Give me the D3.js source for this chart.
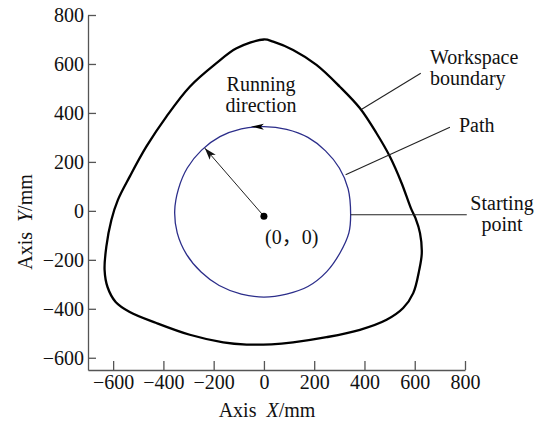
<!DOCTYPE html>
<html>
<head>
<meta charset="utf-8">
<script src="https://cdn.jsdelivr.net/npm/d3@7"></script>
<style>
  html, body { margin: 0; padding: 0; background: #fff; }
  svg { display: block; }
  text { font-family: "Liberation Serif", "Times New Roman", serif; fill: #111; }
</style>
</head>
<body>
<svg id="chart" width="546" height="424"></svg>
<script>
// Tick values on both axes (mm)
const xTicks = [-600, -400, -200, 0, 200, 400, 600, 800];
const yTicks = [-600, -400, -200, 0, 200, 400, 600, 800];

// Reachable workspace boundary (x, y in mm), traced counter-clockwise from the top
const boundaryX = [0, -109, -189, -295, -388, -468, -534, -581, -607, -627, -634, -622, -590, -534, -428, -295, -162, -69, 30, 116, 249, 382, 488, 554, 594, 618, 628, 621, 603, 585, 548, 501, 448, 382, 302, 209, 116, 37];
const boundaryY = [700, 664, 603, 507, 385, 262, 140, 45, -37, -146, -241, -312, -372, -413, -458, -506, -537, -546, -545, -537, -516, -486, -445, -397, -336, -241, -173, -91, -30, 10, 113, 222, 317, 419, 507, 596, 657, 691];

// Measured tool path around the origin (x, y in mm)
const pathX = [345, 335, 300, 245, 175, 90, 0, -90, -175, -248, -305, -340, -355, -345, -308, -250, -178, -90, 0, 90, 175, 250, 302, 338];
const pathY = [-16, 90, 175, 245, 300, 333, 344, 335, 303, 248, 175, 90, 0, -90, -178, -250, -305, -340, -352, -340, -309, -248, -173, -90];

// Annotation anchors (mm)
const centerPoint = [0, -22];
const radiusTip = [-235, 256];
const runArrowTip = [-52, 344];
const leaderLines = [
  { from: [389, 415], to: [624, 562] },   // workspace boundary
  { from: [325, 147], to: [740, 342] },   // path
  { from: [345, -16], to: [807, -16] }    // starting point
];

const svg = d3.select("#chart");
const x = d3.scaleLinear().domain([-700, 800]).range([88, 465]);
const y = d3.scaleLinear().domain([-650, 800]).range([370, 15]);

const axisColor = "#555";
const fontSize = 20;

// Arrowhead marker for the radius arrow
const defs = svg.append("defs");
defs.append("marker")
  .attr("id", "barb")
  .attr("viewBox", "0 0 12 8")
  .attr("refX", 12).attr("refY", 4)
  .attr("markerWidth", 12).attr("markerHeight", 8)
  .attr("markerUnits", "userSpaceOnUse")
  .attr("orient", "auto")
  .append("path")
  .attr("d", "M0,0 L12,4 L0,8 L3,4 Z")
  .attr("fill", "#111");

// Axes
const gx = svg.append("g")
  .attr("transform", `translate(0,${y(-650)})`)
  .call(d3.axisBottom(x).tickValues(xTicks).tickSizeInner(-9).tickSizeOuter(0).tickPadding(5));
const gy = svg.append("g")
  .attr("transform", `translate(${x(-700)},0)`)
  .call(d3.axisLeft(y).tickValues(yTicks).tickSizeInner(-8).tickSizeOuter(0).tickPadding(4));

[gx, gy].forEach(g => {
  g.select(".domain").attr("stroke", axisColor).attr("stroke-width", 1.3);
  g.selectAll(".tick line").attr("stroke", axisColor).attr("stroke-width", 1.3);
  g.selectAll(".tick text")
    .attr("font-family", "Liberation Serif, serif")
    .attr("font-size", fontSize)
    .attr("fill", "#111");
});

// Axis titles
const xTitle = svg.append("text")
  .attr("x", 267).attr("y", 417)
  .attr("text-anchor", "middle")
  .attr("font-size", fontSize);
xTitle.append("tspan").text("Axis\u2002");
xTitle.append("tspan").attr("font-style", "italic").text("X");
xTitle.append("tspan").text("/mm");

const yTitle = svg.append("text")
  .attr("transform", "translate(32,222) rotate(-90)")
  .attr("text-anchor", "middle")
  .attr("font-size", fontSize);
yTitle.append("tspan").text("Axis\u2002");
yTitle.append("tspan").attr("font-style", "italic").text("Y");
yTitle.append("tspan").text("/mm");

// Workspace boundary
const boundary = boundaryX.map((d, i) => [d, boundaryY[i]]);
svg.append("path")
  .datum(boundary)
  .attr("d", d3.line().x(d => x(d[0])).y(d => y(d[1])).curve(d3.curveCatmullRomClosed.alpha(0.5)))
  .attr("fill", "none")
  .attr("stroke", "#000")
  .attr("stroke-width", 2.3);

// Tool path
const toolPath = pathX.map((d, i) => [d, pathY[i]]);
svg.append("path")
  .datum(toolPath)
  .attr("d", d3.line().x(d => x(d[0])).y(d => y(d[1])).curve(d3.curveCatmullRomClosed.alpha(0.5)))
  .attr("fill", "none")
  .attr("stroke", "#2b2d8a")
  .attr("stroke-width", 1.3);

// Leader lines for the callouts
svg.selectAll("line.leader")
  .data(leaderLines)
  .join("line")
  .attr("class", "leader")
  .attr("x1", d => x(d.from[0])).attr("y1", d => y(d.from[1]))
  .attr("x2", d => x(d.to[0])).attr("y2", d => y(d.to[1]))
  .attr("stroke", "#222")
  .attr("stroke-width", 1.1);

// Radius arrow from the centre to the path
svg.append("line")
  .attr("x1", x(centerPoint[0])).attr("y1", y(centerPoint[1]))
  .attr("x2", x(radiusTip[0])).attr("y2", y(radiusTip[1]))
  .attr("stroke", "#222")
  .attr("stroke-width", 1)
  .attr("marker-end", "url(#barb)");

svg.append("circle")
  .attr("cx", x(centerPoint[0])).attr("cy", y(centerPoint[1]))
  .attr("r", 3.5)
  .attr("fill", "#000");

// Running-direction arrowhead on top of the path (pointing left)
const tx = x(runArrowTip[0]), ty = y(runArrowTip[1]);
svg.append("path")
  .attr("d", `M${tx},${ty} L${tx + 13},${ty - 3} L${tx + 10},${ty} L${tx + 13},${ty + 3} Z`)
  .attr("fill", "#000");

// Callout labels
const labels = [
  { lines: ["Running", "direction"], x: 261, y: 91, anchor: "middle" },
  { lines: ["Workspace", "boundary"], x: 430, y: 64, anchor: "start" },
  { lines: ["Path"], x: 459, y: 132, anchor: "start" },
  { lines: ["Starting", "point"], x: 502, y: 210, anchor: "middle" }
];
labels.forEach(l => {
  const t = svg.append("text")
    .attr("x", l.x).attr("y", l.y)
    .attr("text-anchor", l.anchor)
    .attr("font-size", fontSize);
  l.lines.forEach((s, i) => {
    t.append("tspan").attr("x", l.x).attr("dy", i === 0 ? 0 : 21).text(s);
  });
});

// Origin label with a full-width comma
const origin = svg.append("text")
  .attr("x", 265).attr("y", 244)
  .attr("font-size", fontSize);
origin.append("tspan").text("(0");
origin.append("tspan").attr("font-family", "Noto Sans CJK SC").text("\uFF0C");
origin.append("tspan").text("0)");
</script>
</body>
</html>
